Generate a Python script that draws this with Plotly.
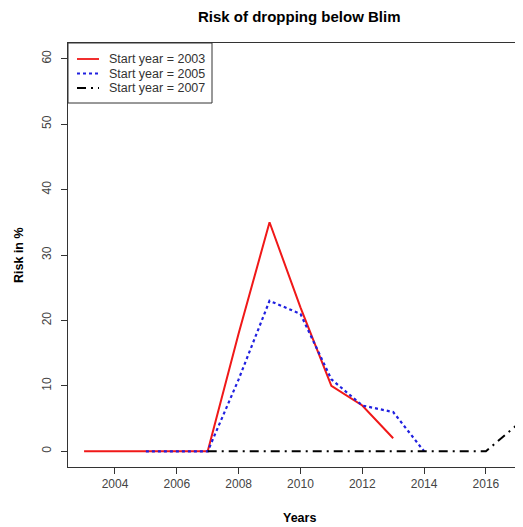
import plotly.graph_objs as go

# data
years_2003 = [2003, 2004, 2005, 2006, 2007, 2008, 2009, 2010, 2011, 2012, 2013]
risk_2003 = [0, 0, 0, 0, 0, 18, 35, 22, 10, 7, 2]

years_2005 = [2005, 2006, 2007, 2008, 2009, 2010, 2011, 2012, 2013, 2014]
risk_2005 = [0, 0, 0, 11, 23, 21, 11, 7, 6, 0]

years_2007 = [2007, 2008, 2009, 2010, 2011, 2012, 2013, 2014, 2015, 2016, 2017]
risk_2007 = [0, 0, 0, 0, 0, 0, 0, 0, 0, 0, 4]

series_names = ['Start year = 2003', 'Start year = 2005', 'Start year = 2007']
x_ticks = [2004, 2006, 2008, 2010, 2012, 2014, 2016]
y_ticks = [0, 10, 20, 30, 40, 50, 60]

line_styles = [
    dict(color='#f01818', width=2),
    dict(color='#2020e0', width=2.2, dash='dot'),
    dict(color='black', width=2, dash='9px,5px,2px,5px'),
]

data = [
    go.Scatter(x=years_2003, y=risk_2003, mode='lines', line=line_styles[0], showlegend=False),
    go.Scatter(x=years_2005, y=risk_2005, mode='lines', line=line_styles[1], showlegend=False),
    go.Scatter(x=years_2007, y=risk_2007, mode='lines', line=line_styles[2], showlegend=False),
]

# page has an 8px body margin, so the figure is offset; plot area is 455 x 424 px
L, T, PW, PH = 60, 35, 455, 424


def px(x):  # screen pixel -> paper x
    return (x - 8 - L) / PW


def py(y):  # screen pixel -> paper y
    return (T + PH - (y - 8)) / PH


# hand-drawn legend box (R style, tight rows)
shapes = [dict(type='rect', xref='paper', yref='paper', x0=px(68), x1=px(212),
               y0=py(103), y1=py(43), line=dict(color='#333', width=1),
               fillcolor='white', layer='above')]
annotations = []
for i, name in enumerate(series_names):
    row_y = 59 + i * 14.5
    st = dict(line_styles[i])
    st['width'] = 1.8
    shapes.append(dict(type='line', xref='paper', yref='paper', x0=px(77), x1=px(99),
                       y0=py(row_y), y1=py(row_y), line=st, layer='above'))
    annotations.append(dict(text=name, xref='paper', yref='paper', x=px(107), y=py(row_y),
                            xanchor='left', yanchor='middle', showarrow=False,
                            font=dict(family='Arial', size=12.5, color='#333')))

annotations += [
    dict(text='<b>Risk of dropping below Blim</b>', xref='paper', yref='paper',
         x=px(299), y=py(16), xanchor='center', yanchor='middle', showarrow=False,
         font=dict(family='Arial', size=15, color='black')),
    dict(text='<b>Years</b>', xref='paper', yref='paper',
         x=px(299), y=py(518), xanchor='center', yanchor='middle', showarrow=False,
         font=dict(family='Arial', size=12.5, color='black')),
    dict(text='<b>Risk in %</b>', xref='paper', yref='paper',
         x=px(19), y=py(255), xanchor='center', yanchor='middle', showarrow=False,
         textangle=-90, font=dict(family='Arial', size=12.5, color='black')),
]

tick_font = dict(family='Arial', size=12, color='#444')

layout = go.Layout(
    width=L + PW, height=T + PH + 60,
    margin=dict(l=L, r=0, t=T, b=60),
    paper_bgcolor='white', plot_bgcolor='white',
    showlegend=False,
    xaxis=dict(range=[2002.48, 2017.2], tickvals=x_ticks, showgrid=False, zeroline=False,
               showline=True, linecolor='#333', linewidth=1, mirror=True,
               ticks='outside', ticklen=6, tickcolor='#333', tickfont=tick_font),
    yaxis=dict(range=[-2.4, 62.4], tickvals=y_ticks, showgrid=False, zeroline=False,
               showline=True, linecolor='#333', linewidth=1,
               ticks='outside', ticklen=6, tickcolor='#333', tickfont=tick_font,
               tickangle=-90, ticklabelstandoff=5),
    shapes=shapes,
    annotations=annotations,
)

fig = go.Figure(data=data, layout=layout)
fig.write_html('out.html')
